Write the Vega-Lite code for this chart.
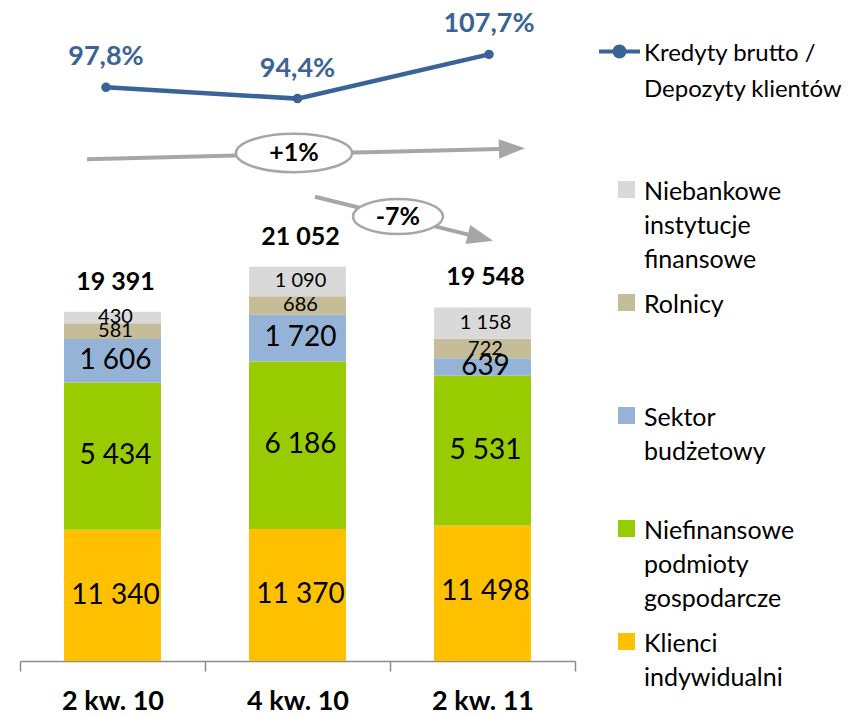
{
  "$schema": "https://vega.github.io/schema/vega-lite/v6.json",
  "width": 555,
  "height": 661,
  "autosize": "none",
  "padding": {"left": 20, "top": 0, "right": 273, "bottom": 55},
  "background": "white",
  "config": {
    "view": {"stroke": null},
    "font": "Lato",
    "locale": {"number": {"decimal": ",", "thousands": " ", "grouping": [3], "currency": ["", " zł"]}}
  },
  "datasets": {
    "deposits": [
      {"q": "2 kw. 10", "cat": "Klienci indywidualni", "ord": 0, "v": 11340},
      {"q": "2 kw. 10", "cat": "Niefinansowe podmioty gospodarcze", "ord": 1, "v": 5434},
      {"q": "2 kw. 10", "cat": "Sektor budżetowy", "ord": 2, "v": 1606},
      {"q": "2 kw. 10", "cat": "Rolnicy", "ord": 3, "v": 581},
      {"q": "2 kw. 10", "cat": "Niebankowe instytucje finansowe", "ord": 4, "v": 430},
      {"q": "4 kw. 10", "cat": "Klienci indywidualni", "ord": 0, "v": 11370},
      {"q": "4 kw. 10", "cat": "Niefinansowe podmioty gospodarcze", "ord": 1, "v": 6186},
      {"q": "4 kw. 10", "cat": "Sektor budżetowy", "ord": 2, "v": 1720},
      {"q": "4 kw. 10", "cat": "Rolnicy", "ord": 3, "v": 686},
      {"q": "4 kw. 10", "cat": "Niebankowe instytucje finansowe", "ord": 4, "v": 1090},
      {"q": "2 kw. 11", "cat": "Klienci indywidualni", "ord": 0, "v": 11498},
      {"q": "2 kw. 11", "cat": "Niefinansowe podmioty gospodarcze", "ord": 1, "v": 5531},
      {"q": "2 kw. 11", "cat": "Sektor budżetowy", "ord": 2, "v": 639},
      {"q": "2 kw. 11", "cat": "Rolnicy", "ord": 3, "v": 722},
      {"q": "2 kw. 11", "cat": "Niebankowe instytucje finansowe", "ord": 4, "v": 1158}
    ],
    "ratio": [
      {"q": "2 kw. 10", "r": 0.978},
      {"q": "4 kw. 10", "r": 0.944},
      {"q": "2 kw. 11", "r": 1.077}
    ]
  },
  "resolve": {"scale": {"x": "independent", "y": "independent"}},
  "layer": [
    {
      "data": {"name": "deposits"},
      "layer": [
        {
          "mark": {"type": "bar", "clip": true, "width": {"band": 0.524}},
          "encoding": {
            "x": {
              "field": "q", "type": "nominal",
              "scale": {"domain": ["2 kw. 10", "4 kw. 10", "2 kw. 11"], "paddingInner": 0, "paddingOuter": 0},
              "axis": {
                "title": null, "tickBand": "extent", "labelAngle": 0,
                "labelFont": "Lato", "labelFontWeight": "bold", "labelFontSize": 27, "labelColor": "black",
                "labelPadding": 17, "tickSize": 10, "domainColor": "#8c8c8c", "tickColor": "#8c8c8c",
                "domainWidth": 1.5, "tickWidth": 1.5, "grid": false
              }
            },
            "y": {
              "field": "v", "type": "quantitative", "stack": "zero",
              "scale": {"domain": [6500, 30891], "nice": false, "zero": false},
              "axis": null
            },
            "color": {
              "field": "cat", "type": "nominal",
              "scale": {
                "domain": ["Klienci indywidualni", "Niefinansowe podmioty gospodarcze", "Sektor budżetowy", "Rolnicy", "Niebankowe instytucje finansowe"],
                "range": ["#ffc000", "#99cc00", "#95b3d7", "#c4bd97", "#d9d9d9"]
              },
              "legend": {
                "title": null, "orient": "none", "legendX": 594, "legendY": 177,
                "values": ["Niebankowe instytucje finansowe", "Rolnicy", "Sektor budżetowy", "Niefinansowe podmioty gospodarcze", "Klienci indywidualni"],
                "labelExpr": "slice(split(datum.label + '  ', ' '), 0, 3)",
                "symbolType": "square", "symbolSize": 289, "symbolStrokeWidth": 0,
                "labelFont": "Lato", "labelFontSize": 25, "labelColor": "black", "labelLimit": 400,
                "labelOffset": 5, "labelBaseline": "top", "rowPadding": 17,
                "encode": {"labels": {"update": {"lineHeight": {"value": 34}, "dy": {"value": -10}}}}
              }
            },
            "order": {"field": "ord", "type": "quantitative"}
          }
        },
        {
          "mark": {"type": "text", "color": "black", "dx": 3, "baseline": "middle"},
          "encoding": {
            "x": {"field": "q", "type": "nominal"},
            "y": {"field": "v", "type": "quantitative", "stack": "zero", "bandPosition": 0.5},
            "detail": {"field": "cat", "type": "nominal"},
            "order": {"field": "ord", "type": "quantitative"},
            "text": {"condition": {"test": "datum.ord === 0", "value": ""}, "field": "v", "type": "quantitative", "format": ",d"},
            "size": {"condition": {"test": "datum.ord >= 3", "value": 20}, "value": 28}
          }
        },
        {
          "transform": [{"filter": "datum.ord === 0"}],
          "mark": {"type": "text", "color": "black", "fontSize": 28, "dx": 3, "dy": 66, "baseline": "middle"},
          "encoding": {
            "x": {"field": "q", "type": "nominal"},
            "y": {"field": "v", "type": "quantitative", "stack": null},
            "text": {"field": "v", "type": "quantitative", "format": ",d"}
          }
        },
        {
          "mark": {"type": "text", "color": "black", "fontSize": 25, "fontWeight": "bold", "dx": 3, "dy": -30, "baseline": "middle"},
          "encoding": {
            "x": {"field": "q", "type": "nominal"},
            "y": {"aggregate": "sum", "field": "v", "type": "quantitative"},
            "text": {"aggregate": "sum", "field": "v", "type": "quantitative", "format": ",d"}
          }
        },
        {
          "data": {"values": [{}]},
          "mark": {"type": "rule", "color": "#a6a6a6", "strokeWidth": 4},
          "encoding": {
            "x": {"datum": "2 kw. 10", "bandPosition": 0.362},
            "x2": {"datum": "2 kw. 11", "bandPosition": 0.659},
            "y": {"datum": 25013},
            "y2": {"datum": 25408}
          }
        },
        {
          "data": {"values": [{}]},
          "mark": {"type": "point", "shape": "M-1,-0.75L1,0L-1,0.75Z", "size": 676, "filled": true, "color": "#a6a6a6", "opacity": 1, "angle": -1.44},
          "encoding": {
            "x": {"datum": "2 kw. 11", "bandPosition": 0.659},
            "y": {"datum": 25408}
          }
        },
        {
          "data": {"values": [{}]},
          "mark": {"type": "rule", "color": "#a6a6a6", "strokeWidth": 4},
          "encoding": {
            "x": {"datum": "4 kw. 10", "bandPosition": 0.595},
            "x2": {"datum": "2 kw. 11", "bandPosition": 0.489},
            "y": {"datum": 23633},
            "y2": {"datum": 22124}
          }
        },
        {
          "data": {"values": [{}]},
          "mark": {"type": "point", "shape": "M-1,-0.75L1,0L-1,0.75Z", "size": 676, "filled": true, "color": "#a6a6a6", "opacity": 1, "angle": 13.9},
          "encoding": {
            "x": {"datum": "2 kw. 11", "bandPosition": 0.489},
            "y": {"datum": 22124}
          }
        },
        {
          "data": {"values": [{}]},
          "mark": {"type": "point", "shape": "M1,0C1,0.1822 0.5523,0.33 0,0.33C-0.5523,0.33 -1,0.1822 -1,0C-1,-0.1822 -0.5523,-0.33 0,-0.33C0.5523,-0.33 1,-0.1822 1,0Z", "size": 13456, "filled": true, "fill": "white", "stroke": "#a6a6a6", "strokeWidth": 2.5, "opacity": 1},
          "encoding": {
            "x": {"datum": "4 kw. 10", "bandPosition": 0.481},
            "y": {"datum": 25245}
          }
        },
        {
          "data": {"values": [{}]},
          "mark": {"type": "text", "text": "+1%", "fontSize": 25, "fontWeight": "bold", "color": "black", "baseline": "middle"},
          "encoding": {
            "x": {"datum": "4 kw. 10", "bandPosition": 0.481},
            "y": {"datum": 25245}
          }
        },
        {
          "data": {"values": [{}]},
          "mark": {"type": "point", "shape": "M1,0C1,0.2154 0.5523,0.39 0,0.39C-0.5523,0.39 -1,0.2154 -1,0C-1,-0.2154 -0.5523,-0.39 0,-0.39C0.5523,-0.39 1,-0.2154 1,0Z", "size": 8100, "filled": true, "fill": "white", "stroke": "#a6a6a6", "strokeWidth": 2.5, "opacity": 1},
          "encoding": {
            "x": {"datum": "2 kw. 11", "bandPosition": 0.043},
            "y": {"datum": 22902}
          }
        },
        {
          "data": {"values": [{}]},
          "mark": {"type": "text", "text": "-7%", "fontSize": 25, "fontWeight": "bold", "color": "black", "baseline": "middle"},
          "encoding": {
            "x": {"datum": "2 kw. 11", "bandPosition": 0.043},
            "y": {"datum": 22902}
          }
        }
      ]
    },
    {
      "data": {"name": "ratio"},
      "encoding": {
        "x": {"field": "q", "type": "nominal", "scale": {"type": "point", "domain": ["2 kw. 10", "4 kw. 10", "2 kw. 11"], "padding": 0.449}, "axis": null},
        "y": {"field": "r", "type": "quantitative", "scale": {"domain": [-0.748, 1.2407], "nice": false, "zero": false}, "axis": null}
      },
      "layer": [
        {
          "mark": {"type": "line", "strokeWidth": 4.5},
          "encoding": {
            "stroke": {
              "datum": "Kredyty brutto / Depozyty klientów",
              "scale": {"range": ["#3a6497"]},
              "legend": {
                "title": null, "orient": "none", "legendX": 577, "legendY": 29,
                "symbolType": "M-1,0L1,0M0.244,0C0.244,0.135 0.135,0.244 0,0.244C-0.135,0.244 -0.244,0.135 -0.244,0C-0.244,-0.135 -0.135,-0.244 0,-0.244C0.135,-0.244 0.244,-0.135 0.244,0Z",
                "symbolSize": 1681, "symbolStrokeWidth": 4, "symbolFillColor": "#3a6497", "symbolStrokeColor": "#3a6497",
                "labelExpr": "['Kredyty brutto /', 'Depozyty klientów']",
                "labelFont": "Lato", "labelFontSize": 24, "labelColor": "black", "labelLimit": 400,
                "labelOffset": 2, "labelBaseline": "top",
                "encode": {
                  "labels": {"update": {"lineHeight": {"value": 36}, "dy": {"value": -10}}},
                  "symbols": {"update": {"fill": {"value": "#3a6497"}, "stroke": {"value": "#3a6497"}, "strokeWidth": {"value": 4}}}
                }
              }
            }
          }
        },
        {
          "mark": {"type": "circle", "size": 90, "color": "#3a6497", "opacity": 1}
        },
        {
          "mark": {"type": "text", "dy": -30, "fontSize": 27, "fontWeight": "bold", "color": "#3a6497", "baseline": "middle"},
          "encoding": {
            "text": {"field": "r", "type": "quantitative", "format": ".1%"}
          }
        }
      ]
    }
  ]
}
